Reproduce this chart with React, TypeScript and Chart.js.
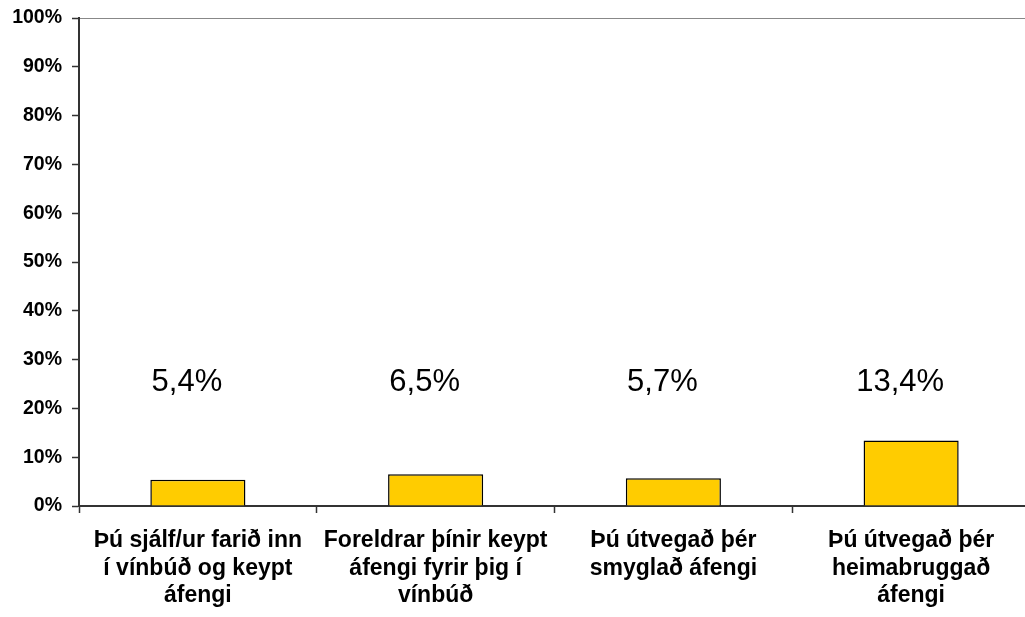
import React, { useEffect, useRef } from "react";
import { Chart, registerables } from "chart.js";

Chart.register(...registerables);

const categories: string[][] = [
  ["Þú sjálf/ur farið inn", "í vínbúð og keypt", "áfengi"],
  ["Foreldrar þínir keypt", "áfengi fyrir þig í", "vínbúð"],
  ["Þú útvegað þér", "smyglað áfengi"],
  ["Þú útvegað þér", "heimabruggað", "áfengi"],
];
const values: number[] = [5.4, 6.5, 5.7, 13.4];
const valueLabels: string[] = ["5,4%", "6,5%", "5,7%", "13,4%"];
const yTicks: number[] = [0, 10, 20, 30, 40, 50, 60, 70, 80, 90, 100];
const labelLevel = 25.4;

const FONT = '"Liberation Sans", Arial, sans-serif';

const valueLabelPlugin = {
  id: "valueLabels",
  afterDatasetsDraw(chart: any) {
    const { ctx } = chart;
    const meta = chart.getDatasetMeta(0);
    const y = chart.scales.y.getPixelForValue(labelLevel);
    ctx.save();
    ctx.font = `31px ${FONT}`;
    ctx.fillStyle = "#000";
    ctx.textAlign = "center";
    ctx.textBaseline = "middle";
    meta.data.forEach((bar: any, i: number) => {
      ctx.fillText(valueLabels[i], bar.x - 11, y);
    });
    ctx.restore();
  },
};

export default function App() {
  const ref = useRef<HTMLCanvasElement>(null);
  useEffect(() => {
    if (!ref.current) return;
    const chart = new Chart(ref.current, {
      type: "bar",
      data: {
        labels: categories,
        datasets: [
          {
            data: values,
            backgroundColor: "#FFCC00",
            borderColor: "#000000",
            borderWidth: 1.5,
            categoryPercentage: 1,
            barPercentage: 0.4,
          },
        ],
      },
      options: {
        responsive: false,
        animation: false,
        devicePixelRatio: 1,
        layout: { padding: { top: 18, left: 0, right: 0, bottom: 0 } },
        plugins: {
          legend: { display: false },
          tooltip: { enabled: false },
        },
        scales: {
          x: {
            offset: true,
            grid: {
              offset: true,
              color: "rgba(0,0,0,0)",
              tickColor: "#333",
              tickWidth: 1.5,
              tickLength: 7,
              drawOnChartArea: false,
            },
            border: { color: "#333", width: 2 },
            ticks: {
              autoSkip: false,
              maxRotation: 0,
              minRotation: 0,
              padding: 14,
              color: "#000",
              font: { family: FONT, size: 23, weight: "bold", lineHeight: 1.2 },
            },
            afterFit: (s: any) => {
              s.height = 111;
            },
          },
          y: {
            min: 0,
            max: 100,
            afterBuildTicks: (s: any) => {
              s.ticks = yTicks.map((v) => ({ value: v }));
            },
            grid: {
              color: (c: any) =>
                c.tick && c.tick.value === 100 ? "#888" : "rgba(0,0,0,0)",
              tickColor: "#333",
              tickWidth: 1.5,
              tickLength: 7,
              lineWidth: 1,
            },
            border: { color: "#333", width: 2 },
            ticks: {
              padding: 10,
              color: "#000",
              font: { family: FONT, size: 19.5, weight: "bold", lineHeight: 0.8 },
              callback: (v: any) => `${v}%`,
            },
            afterFit: (s: any) => {
              s.width = 79;
            },
          },
        },
      },
      plugins: [valueLabelPlugin],
    });
    return () => chart.destroy();
  }, []);
  return (
    <div style={{ position: "fixed", left: 0, top: 0, width: 1030, height: 617, background: "#fff" }}>
      <canvas ref={ref} width={1030} height={617} />
    </div>
  );
}
